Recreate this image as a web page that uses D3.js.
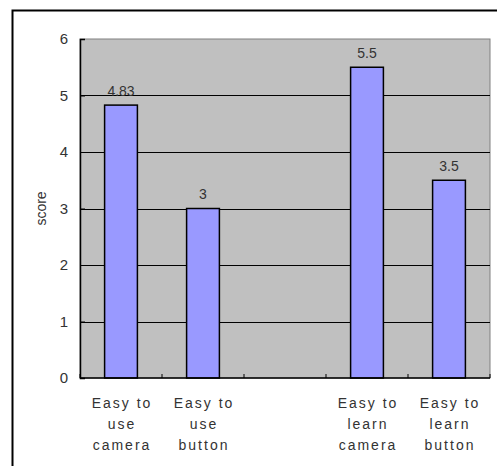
<!DOCTYPE html>
<html>
<head>
<meta charset="utf-8">
<script src="https://cdn.jsdelivr.net/npm/d3@7"></script>
<style>
  html, body { margin: 0; background: #fff; overflow: hidden; }
  svg { display: block; }
  svg text { font-family: "Liberation Sans", Arial, sans-serif; fill: #333; }
</style>
</head>
<body>
<div id="chart"></div>
<script>
  // Category slots (the empty one is a gap in the original chart)
  const categories = ['use camera', 'use button', 'gap', 'learn camera', 'learn button'];
  const labelLines = [
    ['Easy to', 'use', 'camera'],
    ['Easy to', 'use', 'button'],
    [],
    ['Easy to', 'learn', 'camera'],
    ['Easy to', 'learn', 'button']
  ];
  const scores = [4.83, 3, null, 5.5, 3.5];
  const valueLabels = ['4.83', '3', '', '5.5', '3.5'];
  const yTicks = [0, 1, 2, 3, 4, 5, 6];

  const width = 497;
  const height = 466;
  const plot = { left: 80, right: 490, top: 39, bottom: 378 };

  const svg = d3.select('#chart')
    .append('svg')
    .attr('width', width)
    .attr('height', height);

  // outer frame: only top and left edges are inside the picture
  svg.append('path')
    .attr('d', `M12.5,${height}V10.5H${width}`)
    .attr('fill', 'none')
    .attr('stroke', '#000')
    .attr('stroke-width', 2);

  const x = d3.scaleBand()
    .domain(categories)
    .range([plot.left, plot.right])
    .paddingInner(0)
    .paddingOuter(0);

  const y = d3.scaleLinear()
    .domain([0, 6])
    .range([plot.bottom, plot.top]);

  // plot background
  svg.append('rect')
    .attr('x', plot.left)
    .attr('y', plot.top)
    .attr('width', plot.right - plot.left)
    .attr('height', plot.bottom - plot.top)
    .attr('fill', '#c0c0c0')
    .attr('stroke', '#808080')
    .attr('stroke-width', 1);

  // gridlines
  svg.append('g')
    .selectAll('line')
    .data(yTicks.filter(d => d > 0 && d < 6))
    .enter()
    .append('line')
    .attr('x1', plot.left)
    .attr('x2', plot.right)
    .attr('y1', d => Math.round(y(d)) + 0.5)
    .attr('y2', d => Math.round(y(d)) + 0.5)
    .attr('stroke', '#000')
    .attr('stroke-width', 1);

  // bars
  const barW = x.bandwidth() * 0.4;
  const bars = categories.map((c, i) => ({ cat: c, value: scores[i], label: valueLabels[i] }))
    .filter(d => d.value !== null);

  svg.append('g')
    .selectAll('rect')
    .data(bars)
    .enter()
    .append('rect')
    .attr('x', d => x(d.cat) + (x.bandwidth() - barW) / 2)
    .attr('y', d => y(d.value))
    .attr('width', barW)
    .attr('height', d => y(0) - y(d.value))
    .attr('fill', '#9999ff')
    .attr('stroke', '#000')
    .attr('stroke-width', 1.5);

  svg.append('g')
    .selectAll('text')
    .data(bars)
    .enter()
    .append('text')
    .attr('x', d => x(d.cat) + x.bandwidth() / 2)
    .attr('y', d => y(d.value) - 9.5)
    .attr('text-anchor', 'middle')
    .style('font-size', '14px')
    .text(d => d.label);

  // y axis
  const yAxis = svg.append('g')
    .attr('transform', `translate(${plot.left},0)`)
    .call(d3.axisLeft(y).tickValues(yTicks).tickSize(-5).tickPadding(12).tickFormat(d3.format('d')));
  yAxis.select('.domain').attr('stroke', '#000').attr('stroke-width', 1.5);
  yAxis.selectAll('.tick line').attr('stroke', '#000');
  yAxis.selectAll('text').style('font-size', '15px').style('fill', '#333').attr('font-family', null);

  // x axis line and inside ticks at slot boundaries
  const boundaries = categories.map(c => x(c)).concat([plot.right]);
  svg.append('line')
    .attr('x1', plot.left)
    .attr('x2', plot.right)
    .attr('y1', plot.bottom)
    .attr('y2', plot.bottom)
    .attr('stroke', '#000')
    .attr('stroke-width', 1.5);
  svg.append('g')
    .selectAll('line')
    .data(boundaries)
    .enter()
    .append('line')
    .attr('x1', d => d)
    .attr('x2', d => d)
    .attr('y1', plot.bottom)
    .attr('y2', plot.bottom - 4)
    .attr('stroke', '#000');

  // category labels
  const catLabels = svg.append('g')
    .selectAll('text')
    .data(categories.map((c, i) => ({ cat: c, lines: labelLines[i] })))
    .enter()
    .append('text')
    .attr('text-anchor', 'middle')
    .style('font-size', '14px')
    .style('letter-spacing', '2px');

  catLabels.selectAll('tspan')
    .data(d => d.lines.map(l => ({ cat: d.cat, text: l })))
    .enter()
    .append('tspan')
    .attr('x', d => x(d.cat) + x.bandwidth() / 2 + 1)
    .attr('y', (d, i) => 408 + i * 21)
    .text(d => d.text);

  // y axis title
  svg.append('text')
    .attr('transform', `translate(46, ${(plot.top + plot.bottom) / 2}) rotate(-90)`)
    .attr('text-anchor', 'middle')
    .style('font-size', '14px')
    .text('score');
</script>
</body>
</html>
